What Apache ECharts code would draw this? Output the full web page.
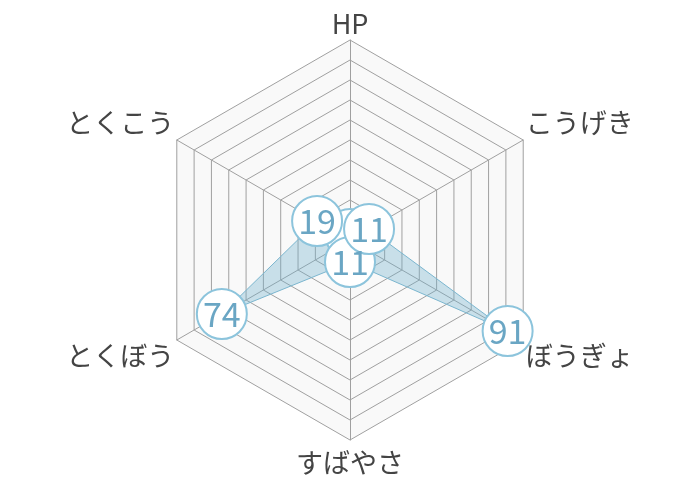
<!DOCTYPE html>
<html><head><meta charset="utf-8">
<script src="https://cdn.jsdelivr.net/npm/echarts@6/dist/echarts.min.js"></script>
<style>html,body{margin:0;padding:0;background:#fff}#c{width:700px;height:480px}</style>
</head><body><div id="c"></div>
<script>
// clockwise from top
var indicatorNames = ['HP', 'こうげき', 'ぼうぎょ', 'すばやさ', 'とくぼう', 'とくこう'];
var indicatorMax = [100, 100, 100, 100, 100, 100];
var statValues = [3, 11, 91, 11, 74, 19];

// ECharts lays indicators counterclockwise; reorder so they run clockwise
var order = [0, 5, 4, 3, 2, 1];
var upper = { 'こうげき': 1, 'とくこう': 1 };
var lower = { 'ぼうぎょ': 1, 'とくぼう': 1 };
var bottom = { 'すばやさ': 1 };
var top = { 'HP': 1 };

var nameFont = { color: '#444', fontSize: 27, fontFamily: 'Noto Sans CJK JP' };
function withPad(p, extra) { return Object.assign({}, nameFont, { padding: p }, extra || {}); }

var chart = echarts.init(document.getElementById('c'));
chart.setOption({
  animation: false,
  radar: {
    center: [350, 240],
    radius: 200,
    startAngle: 90,
    splitNumber: 10,
    indicator: order.map(function (i) { return { name: indicatorNames[i], max: indicatorMax[i] }; }),
    axisName: Object.assign({}, nameFont, {
      formatter: function (name) {
        if (upper[name]) return '{u|' + name + '}';
        if (lower[name]) return '{d|' + name + '}';
        if (bottom[name]) return '{b|' + name + '}';
        if (top[name]) return '{t|' + name + '}';
        return name;
      },
      rich: {
        u: withPad([0, 0, 32, 0]),
        d: withPad([28, 0, 0, 0]),
        b: withPad([6, 0, 0, 0]),
        t: withPad([0, 0, 0, 0], { fontSize: 32 })
      }
    }),
    nameGap: 3,
    splitLine: { lineStyle: { color: '#a0a0a0', width: 1 } },
    splitArea: { areaStyle: { color: ['#f9f9f9'] } },
    axisLine: { lineStyle: { color: '#a0a0a0', width: 1 } }
  },
  series: [{
    type: 'radar',
    symbol: 'circle',
    symbolSize: 50,
    lineStyle: { color: '#7fb8d0', width: 1 },
    areaStyle: { color: 'rgba(110,175,205,0.5)' },
    itemStyle: { color: '#fff', borderColor: '#8cc4dc', borderWidth: 2 },
    label: {
      show: true, position: 'inside', color: '#6aa6c4', fontSize: 34, fontFamily: 'Noto Sans CJK JP',
      formatter: function (p) { return p.dimensionIndex === 0 ? '' : String(p.value); }
    },
    data: [{ value: order.map(function (i) { return statValues[i]; }) }]
  }]
});
</script></body></html>
